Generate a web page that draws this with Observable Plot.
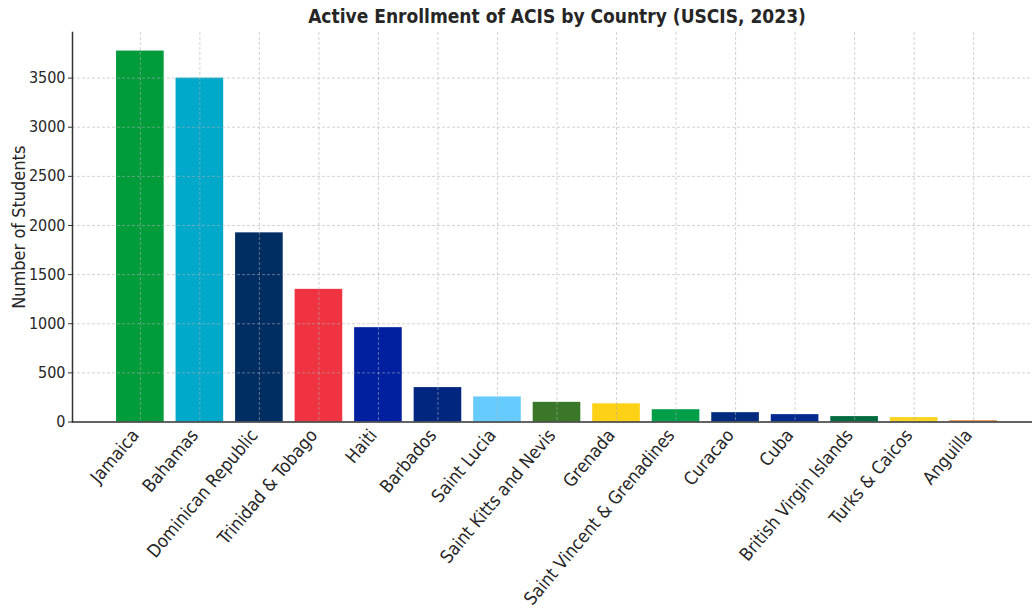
<!DOCTYPE html>
<html>
<head>
<meta charset="utf-8">
<script src="https://cdn.jsdelivr.net/npm/d3@7"></script>
<script src="https://cdn.jsdelivr.net/npm/@observablehq/plot@0.6"></script>
<style>
  html, body { margin: 0; padding: 0; background: #fff; }
  #title {
    height: 30px; line-height: 32px; box-sizing: border-box;
    padding-left: 82px; width: 1032px; text-align: center;
    font-family: "DejaVu Sans Condensed", "DejaVu Sans", sans-serif; font-stretch: condensed;
    font-weight: bold; font-size: 19px; color: #262626;
  }
  #chart svg { display: block; }
</style>
</head>
<body>
<div id="title">Active Enrollment of ACIS by Country (USCIS, 2023)</div>
<div id="chart"></div>
<script>
const countries = ["Jamaica", "Bahamas", "Dominican Republic", "Trinidad & Tobago", "Haiti", "Barbados",
  "Saint Lucia", "Saint Kitts and Nevis", "Grenada", "Saint Vincent & Grenadines", "Curacao", "Cuba",
  "British Virgin Islands", "Turks & Caicos", "Anguilla"];
const students = [3775, 3500, 1925, 1350, 960, 350, 255, 200, 185, 125, 95, 75, 55, 45, 15];
const barColors = ["#009B3A", "#00A9CA", "#002D62", "#EF3340", "#00209F", "#00267F", "#66CCFF",
  "#3A7728", "#FCD116", "#009E49", "#002B7F", "#002A8F", "#006B3F", "#F9D423", "#E8A066"];
const yTicks = [0, 500, 1000, 1500, 2000, 2500, 3000, 3500];

const data = countries.map((c, i) => ({country: c, students: students[i], color: barColors[i]}));

const chart = Plot.plot({
  width: 1032,
  height: 578,
  marginTop: 2,
  marginLeft: 72,
  marginRight: 0,
  marginBottom: 186.5,
  style: {fontFamily: "'DejaVu Sans Condensed', 'DejaVu Sans', sans-serif", fontStretch: "condensed", fontSize: "16px", color: "#262626"},
  x: {domain: countries, range: [72, 1041], round: false, paddingInner: 0.2, paddingOuter: 0.74, label: null},
  y: {domain: [0, 3964], label: null},
  color: {type: "identity"},
  marks: [
    Plot.barY(data, {x: "country", y: "students", fill: "color"}),
    Plot.gridY(yTicks, {stroke: "#b0b0b0", strokeOpacity: 0.7, strokeDasharray: "3,2", strokeWidth: 0.8}),
    Plot.gridX(countries, {stroke: "#b0b0b0", strokeOpacity: 0.7, strokeDasharray: "3,2", strokeWidth: 0.8}),
    Plot.axisY(yTicks, {tickSize: 4, tickPadding: 3, fontSize: 16, fill: "#262626", stroke: "#333",
      tickFormat: d => String(d),
      label: "Number of Students", labelAnchor: "center", labelArrow: "none", labelOffset: 60}),
    Plot.axisX({tickRotate: -50, tickSize: 0, tickPadding: 9, fontSize: 18, fill: "#262626", label: null}),
    Plot.frame({anchor: "left", stroke: "#333", strokeWidth: 1.5}),
    Plot.frame({anchor: "bottom", stroke: "#333", strokeWidth: 1.5})
  ]
});
document.getElementById("chart").appendChild(chart);
chart.querySelectorAll("[aria-label='y-axis label'] text").forEach(t => t.style.fontSize = "18px");
const xLabels = chart.querySelector("[aria-label='x-axis tick label']");
if (xLabels) {
  const tr = xLabels.getAttribute("transform") || "";
  xLabels.setAttribute("transform", "translate(-5,1) " + tr);
}
</script>
</body>
</html>
